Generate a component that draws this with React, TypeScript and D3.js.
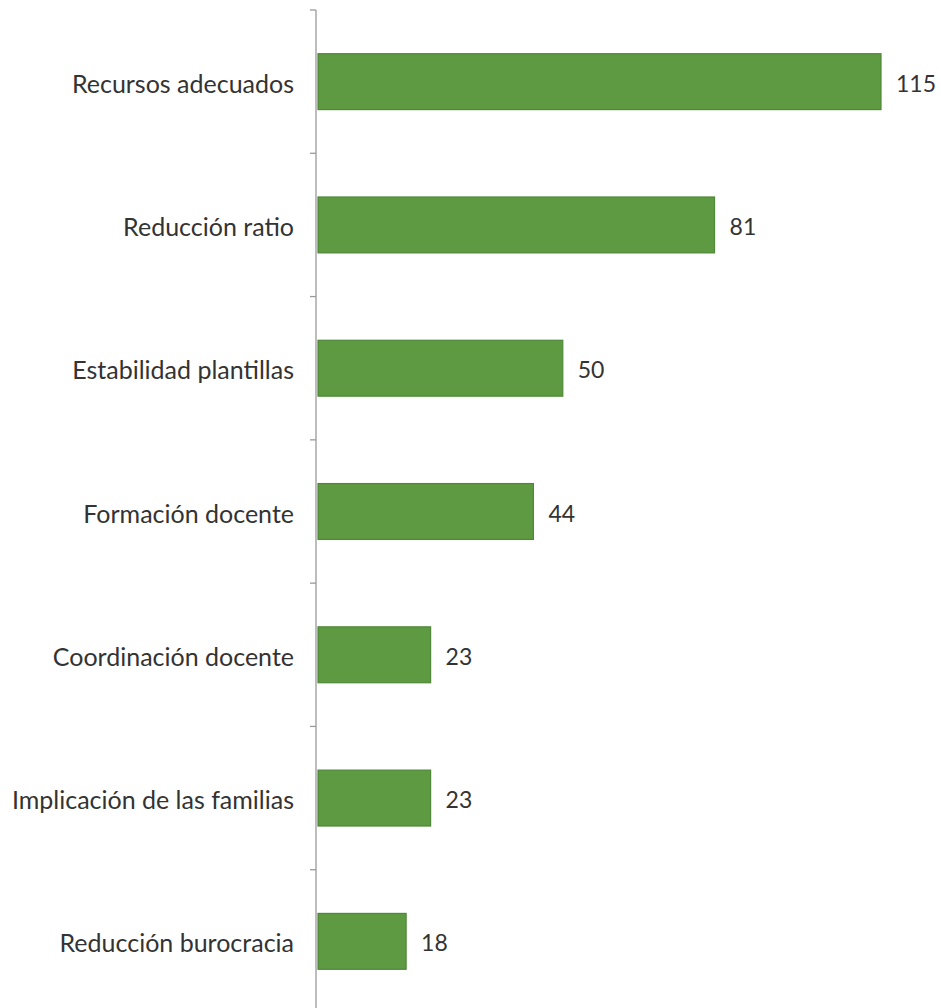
import React from "react";
import * as d3 from "d3";

const categories = [
  "Recursos adecuados",
  "Reducción ratio",
  "Estabilidad plantillas",
  "Formación docente",
  "Coordinación docente",
  "Implicación de las familias",
  "Reducción burocracia",
];
const values = [115, 81, 50, 44, 23, 23, 18];

const W = 941;
const H = 1008;

export default function App() {
  const y = d3
    .scaleBand<string>()
    .domain(categories)
    .range([10, 1013])
    .paddingInner(0.61)
    .paddingOuter(0.305);
  const x = d3.scaleLinear().domain([0, 115]).range([318, 881]);
  const step = y.step();
  const y0 = 10;
  const ticks = d3.range(categories.length + 1).map((i) => y0 + i * step);
  const font = "Lato, 'Open Sans', sans-serif";
  return (
    <svg
      width={W}
      height={H}
      style={{ position: "absolute", left: 0, top: 0, background: "#fff" }}
    >
      <line x1={316} x2={316} y1={y0} y2={H} stroke="#9a9a9a" strokeWidth={1.3} />
      {ticks.map((t, i) => (
        <line key={i} x1={310} x2={316} y1={t} y2={t} stroke="#9a9a9a" strokeWidth={1.3} />
      ))}
      {categories.map((c, i) => {
        const by = y(c)!;
        const bh = y.bandwidth();
        return (
          <g key={c}>
            <rect
              x={x(0)}
              y={by}
              width={x(values[i]) - x(0)}
              height={bh}
              fill="#5e9a42"
              stroke="#4e8838"
              strokeWidth={1.2}
            />
            <text
              x={294}
              y={by + bh / 2 + 1}
              textAnchor="end"
              dominantBaseline="central"
              fontFamily={font}
              fontSize={25}
              fill="#333"
            >
              {c}
            </text>
            <text
              x={x(values[i]) + 15}
              y={by + bh / 2 + 1}
              dominantBaseline="central"
              fontFamily={font}
              fontSize={23}
              fill="#333"
            >
              {values[i]}
            </text>
          </g>
        );
      })}
    </svg>
  );
}
